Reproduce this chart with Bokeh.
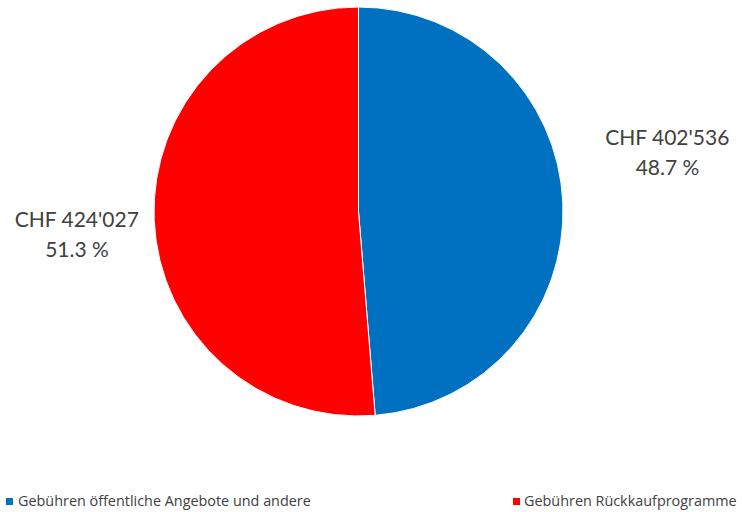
import math
from bokeh.plotting import figure
from bokeh.models import Range1d, Legend, LegendItem, ColumnDataSource
from bokeh.core.properties import value
from bokeh.embed import file_html
from bokeh.resources import INLINE

categories = ["Gebühren öffentliche Angebote und andere", "Gebühren Rückkaufprogramme"]
amounts = [402536, 424027]
amount_labels = ["CHF 402'536", "CHF 424'027"]
percent_labels = ["48.7 %", "51.3 %"]
colors = ["#0070C0", "#FF0000"]

W, H = 742, 512
p = figure(width=W, height=H, output_backend="svg", toolbar_location=None,
           x_range=Range1d(0, W), y_range=Range1d(0, H), min_border=0)
p.axis.visible = False
p.grid.visible = False
p.outline_line_color = None
p.background_fill_color = "white"

cx, cy, r = 358, 301, 204.5
total = sum(amounts)
starts, ends = [], []
a = math.pi / 2
for v in amounts:
    starts.append(a)
    a = a - 2 * math.pi * v / total
    ends.append(a)

renderers = []
for i in range(len(amounts)):
    rr = p.wedge(x=cx, y=cy, radius=r, start_angle=starts[i], end_angle=ends[i],
                 direction="clock", fill_color=colors[i], line_color="white", line_width=1)
    renderers.append(rr)

# data labels
lab_x = [667, 76.5]
lab_y1 = [376.5, 294.5]
lab_y2 = [346.5, 264.5]
src = ColumnDataSource(dict(x=lab_x, y1=lab_y1, y2=lab_y2, t1=amount_labels, t2=percent_labels))
for ycol, tcol in (("y1", "t1"), ("y2", "t2")):
    p.text(x="x", y=ycol, text=tcol, source=src, text_align="center", text_baseline="middle",
           text_font=value("Lato"), text_font_size="21px", text_color="#404040")

leg_x = [4, 511]
leg_standoff = [4, 3]
for i in range(len(categories)):
    lg = Legend(items=[LegendItem(label=categories[i], renderers=[renderers[i]])],
                location=(leg_x[i], 2), orientation="horizontal",
                padding=0, margin=0, border_line_color=None, background_fill_alpha=0,
                glyph_width=10, glyph_height=10, label_standoff=leg_standoff[i],
                label_text_font="Open Sans", label_text_font_size="14.4px", label_text_color="#404040",
                label_height=12)
    p.add_layout(lg, "center")

open("out.html", "w").write(file_html(p, INLINE))
